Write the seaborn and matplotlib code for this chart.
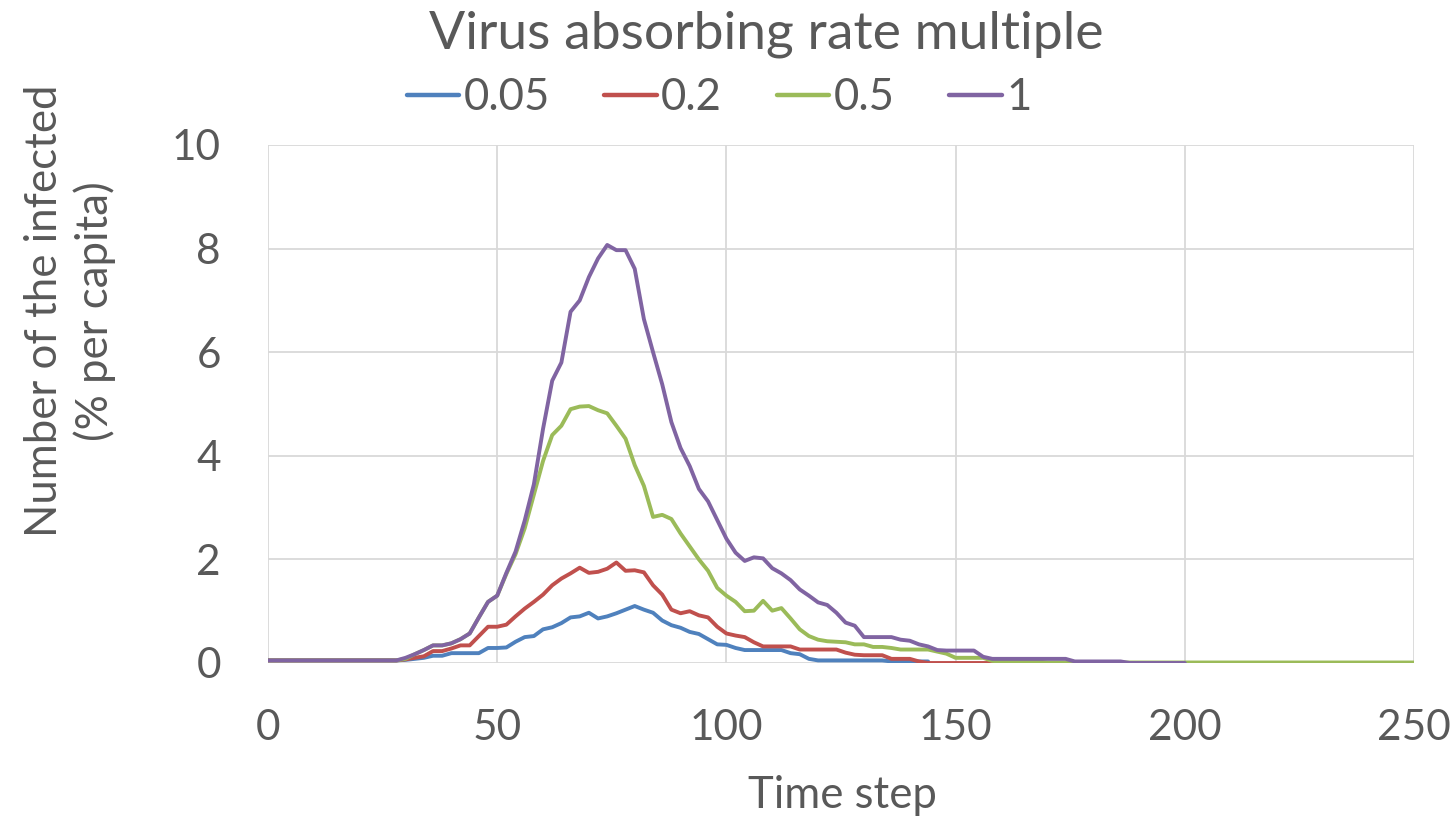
import numpy as np
import pandas as pd
import matplotlib
matplotlib.use("Agg")
import matplotlib.pyplot as plt
import seaborn as sns

# ---------------- data (every 2 time steps) ----------------
series_names = ["0.05", "0.2", "0.5", "1"]

blue_005 = [0.05, 0.05, 0.05, 0.05, 0.05, 0.05, 0.05, 0.05, 0.05, 0.05, 0.05, 0.05, 0.05, 0.05, 0.05,  # 0..28
            0.06, 0.08, 0.10, 0.14, 0.14, 0.19, 0.19, 0.19, 0.19, 0.29, 0.29,  # 30..50
            0.30, 0.41, 0.50, 0.52, 0.65, 0.69, 0.77, 0.88, 0.90, 0.97,  # 52..70
            0.86, 0.90, 0.96, 1.03, 1.10, 1.03, 0.97, 0.82, 0.73, 0.68,  # 72..90
            0.60, 0.56, 0.46, 0.36, 0.35, 0.29, 0.25, 0.25, 0.25, 0.25,  # 92..110
            0.25, 0.19, 0.17, 0.08, 0.05, 0.05, 0.05, 0.05, 0.05, 0.05,  # 112..130
            0.05, 0.05, 0.03, 0.03, 0.03, 0.03, 0.03]  # 132..144

red_02 = [0.05, 0.05, 0.05, 0.05, 0.05, 0.05, 0.05, 0.05, 0.05, 0.05, 0.05, 0.05, 0.05, 0.05, 0.05,  # 0..28
          0.07, 0.10, 0.13, 0.23, 0.23, 0.28, 0.34, 0.34, 0.52, 0.70, 0.70,  # 30..50
          0.74, 0.90, 1.05, 1.18, 1.32, 1.50, 1.63, 1.73, 1.84, 1.74,  # 52..70
          1.76, 1.82, 1.94, 1.78, 1.79, 1.75, 1.50, 1.32, 1.03, 0.96,  # 72..90
          1.00, 0.92, 0.88, 0.70, 0.57, 0.53, 0.50, 0.40, 0.32, 0.32,  # 92..110
          0.32, 0.32, 0.26, 0.26, 0.26, 0.26, 0.26, 0.20, 0.16, 0.15,  # 112..130
          0.15, 0.15, 0.08, 0.08, 0.08, 0.03, 0.00, 0.00, 0.00, 0.00,  # 132..150
          0.00, 0.00, 0.00, 0.00, 0.00, 0.00, 0.00, 0.00, 0.00, 0.00]  # 152..170

green_05 = [0.05, 0.05, 0.05, 0.05, 0.05, 0.05, 0.05, 0.05, 0.05, 0.05, 0.05, 0.05, 0.05, 0.05, 0.05,  # 0..28
            0.08, 0.17, 0.25, 0.34, 0.34, 0.38, 0.46, 0.57, 0.88, 1.18, 1.30,  # 30..50
            1.72, 2.10, 2.60, 3.25, 3.90, 4.40, 4.58, 4.90, 4.95, 4.96,  # 52..70
            4.88, 4.82, 4.58, 4.33, 3.82, 3.42, 2.82, 2.86, 2.78, 2.50,  # 72..90
            2.25, 2.00, 1.78, 1.45, 1.30, 1.18, 1.00, 1.01, 1.20, 1.01,  # 92..110
            1.06, 0.86, 0.65, 0.52, 0.45, 0.42, 0.41, 0.40, 0.36, 0.36,  # 112..130
            0.31, 0.31, 0.29, 0.26, 0.26, 0.26, 0.26, 0.22, 0.18, 0.10,  # 132..150
            0.10, 0.10, 0.10, 0.04, 0.03, 0.03, 0.03, 0.03, 0.03, 0.01,  # 152..170
            0.01, 0.01, 0.01, 0.01, 0.01, 0.01, 0.01, 0.01, 0.01, 0.01,  # 172..190
            0.01, 0.01, 0.01, 0.01, 0.01, 0.01, 0.01, 0.01, 0.01, 0.01,  # 192..210
            0.01, 0.01, 0.01, 0.01, 0.01, 0.01, 0.01, 0.01, 0.01, 0.01,  # 212..230
            0.01, 0.01, 0.01, 0.01, 0.01, 0.01, 0.01, 0.01, 0.01, 0.01]  # 232..250

purple_1 = [0.05, 0.05, 0.05, 0.05, 0.05, 0.05, 0.05, 0.05, 0.05, 0.05, 0.05, 0.05, 0.05, 0.05, 0.05,  # 0..28
            0.10, 0.17, 0.25, 0.34, 0.34, 0.38, 0.46, 0.57, 0.88, 1.18, 1.30,  # 30..50
            1.74, 2.15, 2.75, 3.45, 4.52, 5.45, 5.80, 6.78, 7.00, 7.45,  # 52..70
            7.81, 8.07, 7.97, 7.97, 7.61, 6.64, 6.00, 5.38, 4.65, 4.15,  # 72..90
            3.80, 3.36, 3.12, 2.76, 2.40, 2.13, 1.97, 2.04, 2.02, 1.83,  # 92..110
            1.73, 1.60, 1.42, 1.30, 1.17, 1.12, 0.97, 0.78, 0.72, 0.50,  # 112..130
            0.50, 0.50, 0.50, 0.45, 0.43, 0.36, 0.32, 0.25, 0.24, 0.24,  # 132..150
            0.24, 0.24, 0.12, 0.08, 0.08, 0.08, 0.08, 0.08, 0.08, 0.08,  # 152..170
            0.08, 0.08, 0.03, 0.03, 0.03, 0.03, 0.03, 0.03, 0.00, 0.00,  # 172..190
            0.00, 0.00, 0.00, 0.00, 0.00]  # 192..200

series_values = [blue_005, red_02, green_05, purple_1]
colors = ["#4F81BD", "#C0504D", "#9BBB59", "#8064A2"]

x_ticks = [0, 50, 100, 150, 200, 250]
y_ticks = [0, 2, 4, 6, 8, 10]

title_text = "Virus absorbing rate multiple"
x_label = "Time step"
y_label = "Number of the infected\n(% per capita)"

# ---------------- build table ----------------
frames = []
for name, vals in zip(series_names, series_values):
    steps = np.arange(len(vals)) * 2
    frames.append(pd.DataFrame({"Time step": steps, "value": vals, "series": name}))
df = pd.concat(frames, ignore_index=True)

# ---------------- plot ----------------
sns.set_theme(style="whitegrid")
plt.rcParams["font.family"] = ["Lato", "DejaVu Sans"]
text_color = "#595959"
grid_color = "#D9D9D9"

fig = plt.figure(figsize=(14.55, 8.19), dpi=100)
ax = fig.add_axes([268 / 1455, 1 - 663 / 819, (1414 - 268) / 1455, (663 - 145) / 819])

sns.lineplot(data=df, x="Time step", y="value", hue="series", hue_order=series_names,
             palette=colors, linewidth=2.8, ax=ax, estimator=None, sort=False)

ax.set_xlim(0, 250)
ax.set_ylim(0, 10)
ax.set_xticks(x_ticks)
ax.set_yticks(y_ticks)
ax.grid(True, color=grid_color, linewidth=1.3)
ax.set_axisbelow(True)
for s in ax.spines.values():
    s.set_visible(False)
ax.tick_params(axis="both", length=0, labelsize=30.5, colors=text_color)
ax.tick_params(axis="x", pad=33)
ax.tick_params(axis="y", pad=34)
ax.set_xlabel("")
ax.set_ylabel("")

handles, labels = ax.get_legend_handles_labels()
ax.get_legend().remove()
leg = fig.legend(handles, labels, loc="center", bbox_to_anchor=(719 / 1455, 1 - 98 / 819),
                 ncol=4, frameon=False, fontsize=31.5, handlelength=1.2, handletextpad=0.1,
                 columnspacing=1.25, borderpad=0)
for t in leg.get_texts():
    t.set_color(text_color)
for h in leg.get_lines():
    h.set_linewidth(3.2)

fig.text(766 / 1455, 1 - 34 / 819, title_text, ha="center", va="center",
         fontsize=38.5, color=text_color)
fig.text(842 / 1455, 1 - 795 / 819, x_label, ha="center", va="center",
         fontsize=31.5, color=text_color)
fig.text(70 / 1455, 1 - 311 / 819, y_label, ha="center", va="center", rotation=90,
         fontsize=31.5, color=text_color, multialignment="center", linespacing=1.25)

fig.savefig("out.png", dpi=100, facecolor="white")
